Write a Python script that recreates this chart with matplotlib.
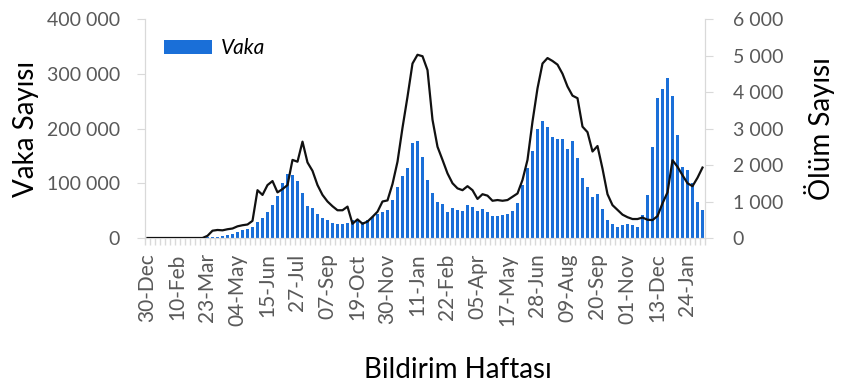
import matplotlib
matplotlib.use("Agg")
import matplotlib.pyplot as plt
from matplotlib.ticker import FuncFormatter, FixedLocator
import numpy as np

# haftalar: 30-Dec-2019'dan itibaren 112 hafta
tick_labels = ["30-Dec", "10-Feb", "23-Mar", "04-May", "15-Jun", "27-Jul", "07-Sep",
               "19-Oct", "30-Nov", "11-Jan", "22-Feb", "05-Apr", "17-May", "28-Jun",
               "09-Aug", "20-Sep", "01-Nov", "13-Dec", "24-Jan"]

# haftalık vaka sayısı (bin)
vaka_bin = [0, 0, 0, 0, 0, 0, 0, 0, 0, 0,
            0, 0.2, 1, 1.5, 2.5, 3.7, 5.5, 8, 11, 14,
            17, 21, 29, 36, 48, 60, 76, 100, 116, 115,
            105, 82, 59, 54, 44, 37, 32, 28, 25, 26,
            27, 32, 33, 30, 33, 39, 44, 48, 52, 70,
            93, 113, 128, 173, 177, 148, 106, 83, 66, 63,
            48, 54, 51, 50, 61, 57, 50, 53, 47, 41,
            40, 42, 43, 50, 64, 97, 127, 158, 200, 213,
            202, 184, 181, 181, 162, 178, 146, 110, 94, 74,
            80, 53, 32, 26, 21, 24, 25, 24, 21, 42,
            78, 167, 256, 273, 293, 260, 189, 130, 124, 100,
            66, 52]

# haftalık ölüm sayısı
olum = [0, 0, 0, 0, 0, 0, 0, 0, 0, 0,
        0, 0, 60, 200, 220, 210, 240, 260, 320, 350,
        370, 470, 1310, 1180, 1450, 1560, 1250, 1340, 1450, 2140,
        2090, 2640, 2070, 1840, 1450, 1180, 1000, 870, 760, 760,
        860, 390, 510, 390, 450, 580, 720, 1000, 1030, 1480,
        2090, 3020, 3870, 4780, 5020, 4980, 4600, 3240, 2500, 2140,
        1770, 1500, 1360, 1310, 1420, 1310, 1070, 1200, 1160, 1020,
        1040, 1020, 1040, 1130, 1220, 1590, 2140, 3190, 4100, 4780,
        4930, 4850, 4750, 4500, 4150, 3900, 3830, 3050, 2900, 2370,
        2520, 1900, 1200, 900, 770, 640, 570, 520, 520, 560,
        500, 490, 600, 950, 1250, 2130, 1950, 1720, 1500, 1420,
        1650, 1930]

plt.rcParams['font.family'] = ['Lato', 'DejaVu Sans']
gri = "#595959"
cizgi = "#d9d9d9"

vaka = np.array(vaka_bin) * 1000
x = np.arange(len(vaka))

fig = plt.figure(figsize=(8.53, 3.89), dpi=100)
ax = fig.add_axes([145/853, 1-238/389, 560/853, 219/389])
ax2 = ax.twinx()

ax.bar(x, vaka, width=0.62, color="#1a6fd8", label="Vaka", zorder=2)
ax2.plot(x, olum, color="#111111", lw=1.6, zorder=3)

ax.set_xlim(-0.5, len(vaka) - 0.5)
ax.set_ylim(0, 400000)
ax2.set_ylim(0, 6000)
ax.set_yticks(np.arange(0, 400001, 100000))
ax2.set_yticks(np.arange(0, 6001, 1000))

fmt = FuncFormatter(lambda v, p: f"{int(v):,}".replace(",", " "))
ax.yaxis.set_major_formatter(fmt)
ax2.yaxis.set_major_formatter(fmt)

ax.set_xticks(np.arange(0, len(vaka), 6))
ax.set_xticklabels(tick_labels, rotation=90)
ax.xaxis.set_minor_locator(FixedLocator(np.arange(-0.5, len(vaka), 1)))

ax.tick_params(axis="x", which="major", length=0, pad=11, labelsize=15, labelcolor=gri)
ax.tick_params(axis="x", which="minor", length=5, color=cizgi, width=1)
ax.tick_params(axis="y", length=6, color=cizgi, pad=12, labelsize=14, labelcolor=gri)
ax2.tick_params(axis="y", length=6, color=cizgi, pad=14, labelsize=14, labelcolor=gri)

for a in (ax, ax2):
    a.spines["top"].set_visible(False)
    for s in ("left", "right", "bottom"):
        a.spines[s].set_color(cizgi)

ax.set_ylabel("Vaka Sayısı", fontsize=20)
ax.yaxis.set_label_coords(-0.19, 0.5)
ax2.set_ylabel("Ölüm Sayısı", fontsize=20)
ax2.yaxis.set_label_coords(1.177, 0.5)
ax.set_xlabel("Bildirim Haftası", fontsize=20, va="center")
ax.xaxis.set_label_coords(0.558, -0.605)

leg = ax.legend(loc="upper left", bbox_to_anchor=(0.0, 0.997), frameon=False,
                handlelength=2.3, handleheight=0.6, handletextpad=0.45,
                prop={"size": 15, "style": "italic"})

fig.savefig("out.png", dpi=100)
